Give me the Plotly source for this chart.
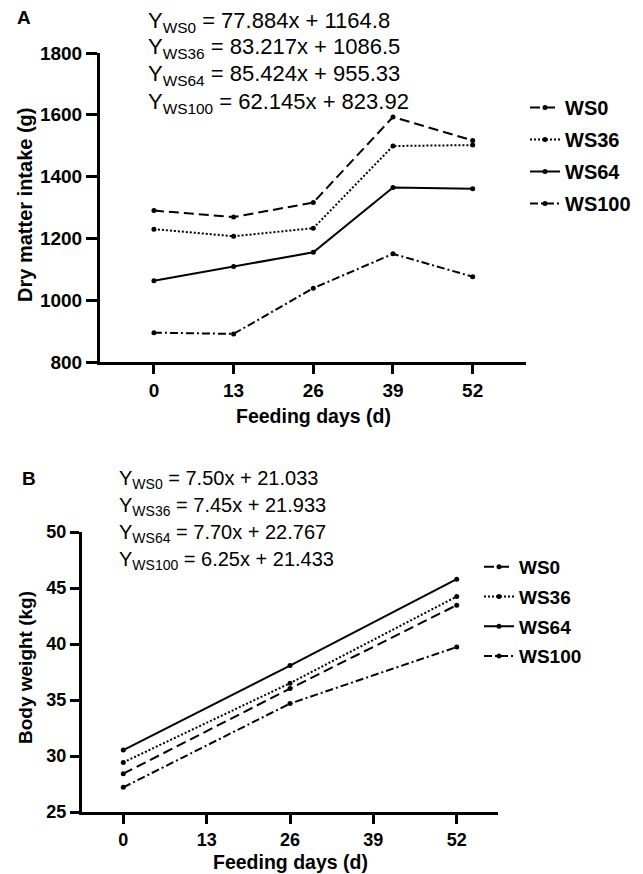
import plotly.graph_objects as go

# ---- Data ----
series_names = ["WS0", "WS36", "WS64", "WS100"]

days_a = [0, 13, 26, 39, 52]
dmi_ws0 = [1290, 1269, 1316, 1593, 1517]
dmi_ws36 = [1230, 1207, 1233, 1499, 1502]
dmi_ws64 = [1063, 1109, 1155, 1365, 1361]
dmi_ws100 = [895, 891, 1039, 1150, 1076]

days_b = [0, 26, 52]
bw_ws0 = [28.42, 36.02, 43.47]
bw_ws36 = [29.43, 36.50, 44.24]
bw_ws64 = [30.53, 38.07, 45.79]
bw_ws100 = [27.20, 34.68, 39.73]

x_ticks = [0, 13, 26, 39, 52]
y_ticks_a = [800, 1000, 1200, 1400, 1600, 1800]
y_ticks_b = [25, 30, 35, 40, 45, 50]

eq_a = [("WS0", "77.884x + 1164.8"), ("WS36", "83.217x + 1086.5"),
        ("WS64", "85.424x + 955.33"), ("WS100", "62.145x + 823.92")]
eq_b = [("WS0", "7.50x + 21.033"), ("WS36", "7.45x + 21.933"),
        ("WS64", "7.70x + 22.767"), ("WS100", "6.25x + 21.433")]

# ---- Styles ----
dashes = {"WS0": "10px,5px", "WS36": "2px,2px", "WS64": "solid", "WS100": "8px,3px,2px,3px"}
FONT = "Liberation Sans, Arial, sans-serif"
W, H = 643, 874
OFF = 8  # default page body margin

fig = go.Figure()

dmi = {"WS0": dmi_ws0, "WS36": dmi_ws36, "WS64": dmi_ws64, "WS100": dmi_ws100}
bw = {"WS0": bw_ws0, "WS36": bw_ws36, "WS64": bw_ws64, "WS100": bw_ws100}

for n in series_names:
    fig.add_trace(go.Scatter(
        x=days_a, y=dmi[n], name=n, mode="lines+markers",
        line=dict(color="black", width=2, dash=dashes[n]),
        marker=dict(color="black", size=5),
        xaxis="x", yaxis="y", legend="legend", legendgroup="a" + n))
for n in series_names:
    fig.add_trace(go.Scatter(
        x=days_b, y=bw[n], name=n, mode="lines+markers",
        line=dict(color="black", width=2, dash=dashes[n]),
        marker=dict(color="black", size=5),
        xaxis="x2", yaxis="y2", legend="legend2", legendgroup="b" + n))


def px_x(p):
    return (p - OFF) / W


def px_y(p):
    return 1 - (p - OFF) / H


axis_common = dict(showline=True, linecolor="black", linewidth=3, ticks="outside",
                   tickcolor="black", tickwidth=3, showgrid=False, zeroline=False,
                   mirror=False, automargin=False)

fig.update_layout(
    width=W, height=H, margin=dict(l=0, r=0, t=0, b=0, autoexpand=False),
    paper_bgcolor="white", plot_bgcolor="white",
    font=dict(family=FONT, color="black"),
    xaxis=dict(domain=[px_x(100), px_x(526)], range=[-8.8, 60.7], tickvals=x_ticks,
               ticklen=9, tickfont=dict(size=19, family=FONT, weight="bold"),
               anchor="y", **axis_common),
    yaxis=dict(domain=[px_y(362), px_y(53)], range=[800, 1800], tickvals=y_ticks_a,
               ticklen=11, tickfont=dict(size=19, family=FONT, weight="bold"),
               anchor="x", **axis_common),
    xaxis2=dict(domain=[px_x(82), px_x(498)], range=[-6.44, 58.44], tickvals=x_ticks,
                ticklen=9, tickfont=dict(size=18, family=FONT, weight="bold"),
                anchor="y2", **axis_common),
    yaxis2=dict(domain=[px_y(812), px_y(532)], range=[25, 50], tickvals=y_ticks_b,
                ticklen=9, tickfont=dict(size=18, family=FONT, weight="bold"),
                anchor="x2", **axis_common),
    legend=dict(x=px_x(525), y=px_y(88), xanchor="left", yanchor="top",
                font=dict(size=20, family=FONT, weight="bold"),
                tracegroupgap=3, bgcolor="rgba(0,0,0,0)"),
    legend2=dict(x=px_x(479), y=px_y(548), xanchor="left", yanchor="top",
                 font=dict(size=19, family=FONT, weight="bold"),
                 tracegroupgap=2, bgcolor="rgba(0,0,0,0)"),
    showlegend=True,
)

annotations = []
# panel labels
annotations.append(dict(text="<b>A</b>", x=px_x(15), y=px_y(18), xref="paper", yref="paper",
                        xanchor="left", yanchor="middle", showarrow=False, font=dict(size=19)))
annotations.append(dict(text="<b>B</b>", x=px_x(20), y=px_y(478), xref="paper", yref="paper",
                        xanchor="left", yanchor="middle", showarrow=False, font=dict(size=19)))
# axis titles
annotations.append(dict(text="<b>Dry matter intake (g)</b>", x=px_x(25), y=px_y(205), xref="paper",
                        yref="paper", textangle=-90, showarrow=False, font=dict(size=20),
                        xanchor="center", yanchor="middle"))
annotations.append(dict(text="<b>Feeding days (d)</b>", x=px_x(313), y=px_y(416), xref="paper",
                        yref="paper", showarrow=False, font=dict(size=19.5),
                        xanchor="center", yanchor="middle"))
annotations.append(dict(text="<b>Body weight (kg)</b>", x=px_x(25), y=px_y(668), xref="paper",
                        yref="paper", textangle=-90, showarrow=False, font=dict(size=19),
                        xanchor="center", yanchor="middle"))
annotations.append(dict(text="<b>Feeding days (d)</b>", x=px_x(290), y=px_y(862), xref="paper",
                        yref="paper", showarrow=False, font=dict(size=19.5),
                        xanchor="center", yanchor="middle"))
# equations
for i, (g, e) in enumerate(eq_a):
    annotations.append(dict(text=f"Y<sub>{g}</sub> = {e}", x=px_x(146), y=px_y(21.5 + 27 * i),
                            xref="paper", yref="paper", xanchor="left", yanchor="middle",
                            showarrow=False, font=dict(size=22)))
for i, (g, e) in enumerate(eq_b):
    annotations.append(dict(text=f"Y<sub>{g}</sub> = {e}", x=px_x(117), y=px_y(479 + 27 * i),
                            xref="paper", yref="paper", xanchor="left", yanchor="middle",
                            showarrow=False, font=dict(size=20)))
fig.update_layout(annotations=annotations)

fig.write_html("out.html")
